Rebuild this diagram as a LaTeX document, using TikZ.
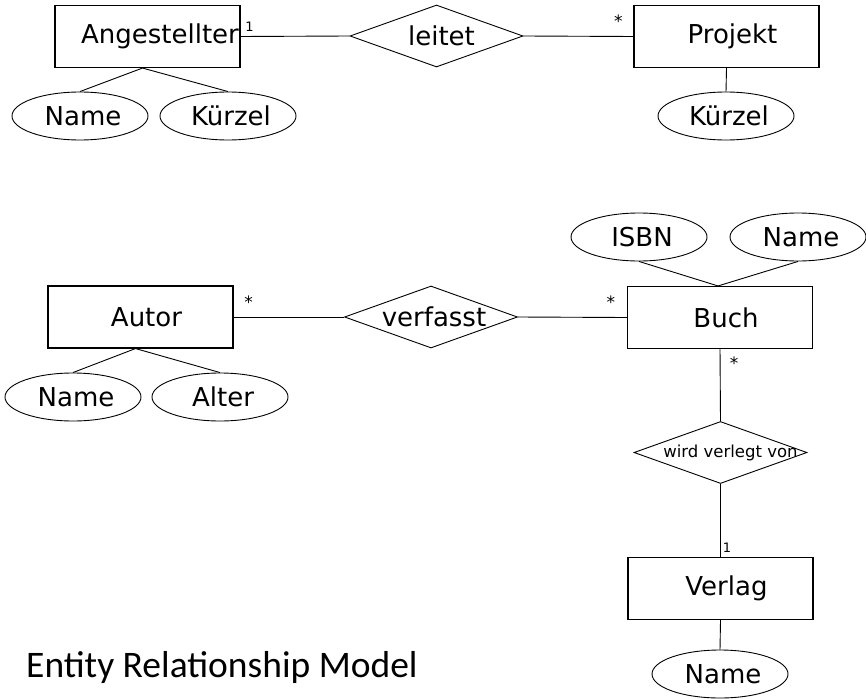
\documentclass[tikz,border=0pt]{standalone}
\usepackage{fontspec}
\setmainfont{DejaVu Sans}
\newfontfamily\titlefont{Carlito}
\usetikzlibrary{shapes.geometric}

\begin{document}
\begin{tikzpicture}[x=1pt, y=-1pt,
  every node/.style={inner sep=0pt},
  conn/.style={line width=0.9pt},
  ent/.style={draw, rectangle, line width=1.1pt, minimum width=185, minimum height=62,
    font=\fontsize{26}{31}\selectfont, execute at begin node={\hspace*{12pt}}},
  attr/.style={draw, ellipse, line width=0.9pt, minimum width=136, minimum height=48,
    font=\fontsize{26}{31}\selectfont, execute at begin node={\hspace*{6pt}}},
  rel/.style={draw, diamond, line width=0.9pt, minimum width=173, minimum height=62},
  reltext/.style={font=\fontsize{26}{31}\selectfont},
  one/.style={font=\fontsize{13}{15}\selectfont, anchor=base},
  many/.style={font=\fontsize{17}{20}\selectfont, anchor=base},
]
\fill[white] (0,0) rectangle (866,698);
\useasboundingbox (0,0) rectangle (866,698);

% employees lead projects
\node[ent] (ang) at (147.5,36.5) {\hspace*{13pt}Angestellter};
\node[rel, reltext] (leitet) at (436.5,36) {\makebox[0pt]{\hspace*{10pt}leitet}};
\node[ent] (proj) at (726.5,36.5) {Projekt};
\node[attr] (angname) at (80,116) {Name};
\node[attr] (angkurz) at (228,116) {Kürzel};
\node[attr] (projkurz) at (726,116) {Kürzel};

\draw[conn] (ang.east) -- node[one, pos=0, xshift=9pt, yshift=4.8pt] {1} (leitet.west);
\draw[conn] (leitet.east) -- node[many, pos=1, xshift=-15pt, yshift=9pt] {*} (proj.west);
\coordinate (angfoot) at ([xshift=-5pt]ang.south);
\draw[conn] (angfoot) -- (angname.north);
\draw[conn] (angfoot) -- (angkurz.north);
\draw[conn] (proj.south) -- (projkurz.north);

% authors write books
\node[ent] (autor) at (140.5,317) {Autor};
\node[rel, reltext] (verf) at (431,317) {\makebox[0pt]{\hspace*{6pt}verfasst}};
\node[ent] (buch) at (720,317.5) {Buch};
\node[attr] (autname) at (73,397) {Name};
\node[attr] (alter) at (220,397) {Alter};
\node[attr] (isbn) at (639,237) {ISBN};
\node[attr] (buchname) at (798,237) {Name};

\draw[conn] (autor.east) -- node[many, pos=0, xshift=15pt, yshift=8.5pt] {*} (verf.west);
\draw[conn] (verf.east) -- node[many, pos=1, xshift=-16pt, yshift=9pt] {*} (buch.west);
\coordinate (autfoot) at ([xshift=-5pt]autor.south);
\draw[conn] (autfoot) -- (autname.north);
\draw[conn] (autfoot) -- (alter.north);
\coordinate (buchtop) at ([xshift=-2pt]buch.north);
\draw[conn] (buchtop) -- (isbn.south);
\draw[conn] (buchtop) -- (buchname.south);

% publisher
\node[rel] (verlegt) at (720.5,452.5) {\makebox[0pt]{\hspace*{20pt}\fontsize{16.5}{19}\selectfont wird verlegt von}};
\node[ent] (verlag) at (720.5,588.5) {Verlag};
\node[attr] (verlname) at (720,674) {Name};

\draw[conn] (buch.south) -- node[many, pos=0, xshift=14pt, yshift=-20.5pt] {*} (verlegt.north);
\draw[conn] (verlegt.south) -- node[one, pos=1, xshift=6.5pt, yshift=4.3pt] {1} (verlag.north);
\draw[conn] (verlag.south) -- (verlname.north);

% caption
\node[anchor=base west, font=\titlefont\fontsize{37.5}{45}\selectfont] (title) at (26,677) {Entity Relationship Model};
\end{tikzpicture}
\end{document}
